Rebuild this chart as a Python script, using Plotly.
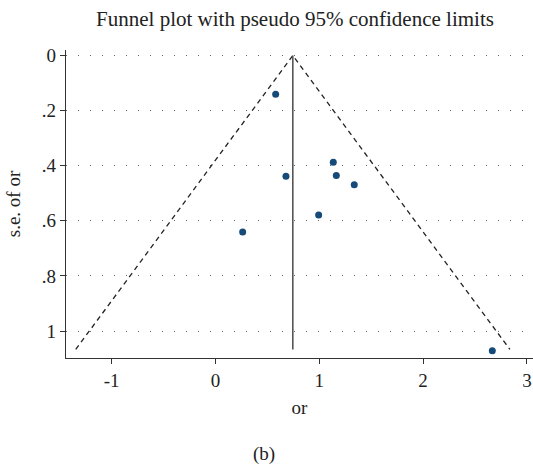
import plotly.graph_objects as go

# Study estimates (log odds ratio) and standard errors
study_or = [0.58, 0.262, 0.679, 0.994, 1.135, 1.164, 1.337, 2.667]
study_se = [0.141, 0.641, 0.438, 0.579, 0.387, 0.436, 0.469, 1.072]

pooled = 0.745
se_max = 1.067
z = 1.96

x_ticks = [-1, 0, 1, 2, 3]
x_ticktext = ["-1", "0", "1", "2", "3"]
y_ticks = [0, 0.2, 0.4, 0.6, 0.8, 1.0]
y_ticktext = ["0", ".2", ".4", ".6", ".8", "1"]

FONT = "Liberation Serif"

fig = go.Figure()

# funnel limits
fig.add_trace(go.Scatter(
    x=[pooled - z * se_max, pooled, pooled + z * se_max],
    y=[se_max, 0, se_max],
    mode="lines",
    line=dict(color="#222222", width=1.3, dash="5px,4px"),
    hoverinfo="skip", showlegend=False))

# pooled estimate line
fig.add_trace(go.Scatter(
    x=[pooled, pooled], y=[0, se_max],
    mode="lines",
    line=dict(color="#555555", width=1.6),
    hoverinfo="skip", showlegend=False))

fig.add_trace(go.Scatter(
    x=study_or, y=study_se, mode="markers",
    marker=dict(color="#164a79", size=7),
    showlegend=False))

fig.update_layout(
    width=533, height=468,
    margin=dict(l=66, r=0, t=50, b=110, autoexpand=False),
    paper_bgcolor="white", plot_bgcolor="white",
    font=dict(family=FONT, size=19, color="#222222"),
    title=dict(text="Funnel plot with pseudo 95% confidence limits",
               x=(295) / 533, xanchor="center", y=1 - 19 / 468, yanchor="middle",
               font=dict(family=FONT, size=21, color="#222222")),
    xaxis=dict(range=[-1.44, 3.059], tickmode="array",
               tickvals=x_ticks, ticktext=x_ticktext,
               tickfont=dict(family=FONT, size=19),
               showgrid=False, zeroline=False, automargin=False,
               showline=True, linecolor="#333333", linewidth=1.3,
               ticks="outside", ticklen=5, tickcolor="#333333", tickwidth=1.3,
               title=dict(text="or", standoff=10, font=dict(size=19))),
    yaxis=dict(range=[1.098, -0.02], tickmode="array",
               tickvals=y_ticks, ticktext=y_ticktext,
               tickfont=dict(family=FONT, size=19),
               showgrid=True, gridcolor="#666666", gridwidth=1.2,
               griddash="1px,11px",
               zeroline=False, automargin=False,
               showline=True, linecolor="#333333", linewidth=1.3,
               ticks="outside", ticklen=5, tickcolor="#333333", tickwidth=1.3,
               title=dict(text="s.e. of or", standoff=16, font=dict(size=19))),
    annotations=[dict(text="(b)", xref="paper", yref="paper",
                      x=(264 - 66) / 467, y=-(455 - 358.5) / 308.5,
                      xanchor="center", yanchor="middle", showarrow=False,
                      font=dict(family=FONT, size=19, color="#222222"))],
)

fig.write_html("out.html", config={"displayModeBar": False},
               post_script="document.body.style.margin='0px';")
